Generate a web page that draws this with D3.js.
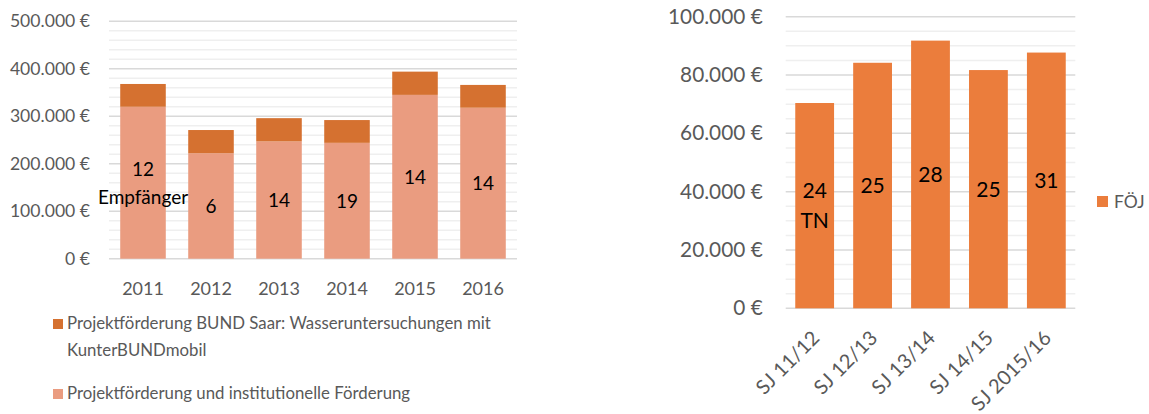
<!DOCTYPE html>
<html><head><meta charset="utf-8">
<script src="https://cdn.jsdelivr.net/npm/d3@7"></script>
<style>
body{margin:0;background:#fff;}
svg{display:block;font-family:Lato,"Open Sans",sans-serif;}
</style></head>
<body><svg id="c" width="1149" height="414"></svg>
<script>
// Left chart data
const years = ["2011","2012","2013","2014","2015","2016"];
const basisFoerderung = [320000, 222000, 247000, 244000, 345000, 318000];
const kunterBund = [48000, 49000, 49000, 48000, 49000, 48000];
const empfaenger = [["12","Empfänger"],["6"],["14"],["19"],["14"],["14"]];
const leftTicks = [0,100000,200000,300000,400000,500000];
const legendLeft = [
  {name:["Projektförderung BUND Saar: Wasseruntersuchungen mit","KunterBUNDmobil"], color:"#D57130"},
  {name:["Projektförderung und institutionelle Förderung"], color:"#EA9C80"}
];
// Right chart data
const schuljahre = ["SJ 11/12","SJ 12/13","SJ 13/14","SJ 14/15","SJ 2015/16"];
const foej = [70400, 84200, 91800, 81700, 87700];
const teilnehmer = [["24","TN"],["25"],["28"],["25"],["31"]];
const rightTicks = [0,20000,40000,60000,80000,100000];
const legendRight = "FÖJ";

const svg = d3.select("#c");
const fmt = v => d3.format(",")(v).replace(/,/g,".") + " €";
const axisColor = "#595959";

// ---------- Left chart ----------
const L = {x0:109, x1:517, y0:258.7, y1:21.3};
const xL = d3.scaleBand().domain(years).range([L.x0,L.x1]).paddingInner(0.33).paddingOuter(0.165);
const yL = d3.scaleLinear().domain([0,500000]).range([L.y0,L.y1]);
const gL = svg.append("g");
gL.selectAll("line.minor").data(d3.range(0,500001,20000).filter(v=>v%100000!==0)).join("line")
  .attr("x1",L.x0).attr("x2",L.x1).attr("y1",d=>yL(d)).attr("y2",d=>yL(d))
  .attr("stroke","#efefef").attr("stroke-width",1.5);
gL.selectAll("line.major").data(leftTicks).join("line")
  .attr("x1",L.x0).attr("x2",L.x1).attr("y1",d=>yL(d)).attr("y2",d=>yL(d))
  .attr("stroke","#d9d9d9").attr("stroke-width",1.5);
gL.append("g").attr("transform",`translate(${L.x0},0)`)
  .call(d3.axisLeft(yL).tickValues(leftTicks).tickFormat(fmt).tickSize(0).tickPadding(19))
  .call(g=>g.select(".domain").remove())
  .selectAll("text").attr("fill",axisColor).style("font-size","17.6px").style("font-family","Lato");
const stackData = years.map((y,i)=>({year:y, base:basisFoerderung[i], top:kunterBund[i]}));
const stacked = d3.stack().keys(["base","top"])(stackData);
const colorsL = {base:"#EA9C80", top:"#D57130"};
gL.selectAll("g.layer").data(stacked).join("g").attr("fill",d=>colorsL[d.key])
  .selectAll("rect").data(d=>d).join("rect")
  .attr("x",d=>xL(d.data.year)).attr("width",xL.bandwidth())
  .attr("y",d=>yL(d[1])).attr("height",d=>yL(d[0])-yL(d[1]));
const lh = 28;
stackData.forEach((d,i)=>{
  const lines = empfaenger[i];
  const cy = yL(d.base/2);
  const t = gL.append("text").attr("text-anchor","middle").attr("fill","#000").style("font-size","19px");
  lines.forEach((ln,j)=>{
    t.append("tspan").attr("x",xL(d.year)+xL.bandwidth()/2)
      .attr("y", cy + (j-(lines.length-1)/2)*lh + 7).text(ln);
  });
});
gL.append("g").attr("transform",`translate(0,${L.y0})`)
  .call(d3.axisBottom(xL).tickSize(0).tickPadding(24))
  .call(g=>g.select(".domain").remove())
  .selectAll("text").attr("fill",axisColor).style("font-size","18px").style("font-family","Lato");
const legY = [319, 389];
legendLeft.forEach((it,i)=>{
  gL.append("rect").attr("x",53).attr("y",legY[i]).attr("width",10).attr("height",10).attr("fill",it.color);
  const t = gL.append("text").attr("fill",axisColor).style("font-size","16.8px");
  it.name.forEach((ln,j)=>t.append("tspan").attr("x",67).attr("y",legY[i]+10+j*27).text(ln));
});

// ---------- Right chart ----------
const R = {x0:785.7, x1:1075.3, y0:308.3, y1:16.7};
const xR = d3.scaleBand().domain(schuljahre).range([R.x0,R.x1]).paddingInner(0.33).paddingOuter(0.165);
const yR = d3.scaleLinear().domain([0,100000]).range([R.y0,R.y1]);
const gR = svg.append("g");
gR.selectAll("line.minor").data(d3.range(0,100001,5000).filter(v=>v%20000!==0)).join("line")
  .attr("x1",R.x0).attr("x2",R.x1).attr("y1",d=>yR(d)).attr("y2",d=>yR(d))
  .attr("stroke","#efefef").attr("stroke-width",1.5);
gR.selectAll("line.major").data(rightTicks).join("line")
  .attr("x1",R.x0).attr("x2",R.x1).attr("y1",d=>yR(d)).attr("y2",d=>yR(d))
  .attr("stroke","#d9d9d9").attr("stroke-width",1.5);
gR.append("g").attr("transform",`translate(${R.x0},0)`)
  .call(d3.axisLeft(yR).tickValues(rightTicks).tickFormat(fmt).tickSize(0).tickPadding(23))
  .call(g=>g.select(".domain").remove())
  .selectAll("text").attr("fill",axisColor).style("font-size","20.8px").style("font-family","Lato");
gR.selectAll("rect.bar").data(foej).join("rect")
  .attr("x",(d,i)=>xR(schuljahre[i])).attr("width",xR.bandwidth())
  .attr("y",d=>yR(d)).attr("height",d=>yR(0)-yR(d)).attr("fill","#EB7D3C");
const lhR = 30;
foej.forEach((v,i)=>{
  const lines = teilnehmer[i];
  const cy = yR(v/2);
  const t = gR.append("text").attr("text-anchor","middle").attr("fill","#000").style("font-size","21px");
  lines.forEach((ln,j)=>t.append("tspan").attr("x",xR(schuljahre[i])+xR.bandwidth()/2)
    .attr("y", cy + (j-(lines.length-1)/2)*lhR + 7.5).text(ln));
});
gR.append("g").attr("transform",`translate(0,${R.y0})`)
  .call(d3.axisBottom(xR).tickSize(0).tickPadding(0))
  .call(g=>g.select(".domain").remove())
  .selectAll("text").attr("fill",axisColor).style("font-size","20px").style("font-family","Lato")
  .attr("text-anchor","end").attr("dy",null).attr("y",0)
  .attr("transform","translate(6,31) rotate(-45)");
gR.append("rect").attr("x",1097).attr("y",196).attr("width",11).attr("height",11).attr("fill","#EB7D3C");
gR.append("text").attr("x",1114).attr("y",208).attr("fill",axisColor).style("font-size","17.5px").text(legendRight);
</script></body></html>
